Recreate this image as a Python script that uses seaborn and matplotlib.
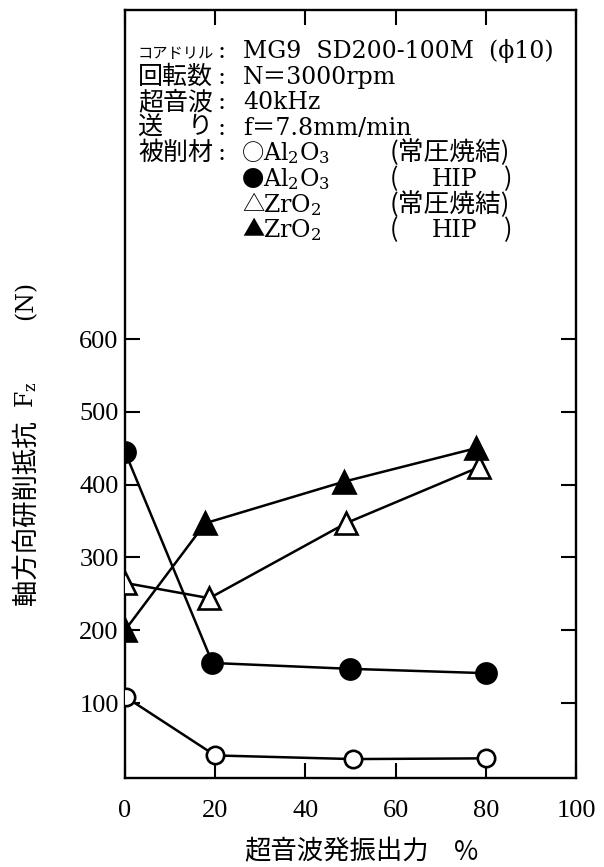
import matplotlib
matplotlib.use("Agg")
import matplotlib.pyplot as plt
import seaborn as sns
import pandas as pd

# ---------------- data ----------------
power_al_normal = [0.2, 20.0, 50.5, 80.0]
fz_al_normal = [108, 28, 23, 24]
power_al_hip = [0.0, 19.4, 49.8, 80.0]
fz_al_hip = [445, 155, 147, 141]
power_zr_normal = [0.0, 18.7, 49.0, 78.5]
fz_zr_normal = [265, 244, 347, 424]
power_zr_hip = [0.0, 17.8, 48.5, 77.8]
fz_zr_hip = [200, 347, 404, 450]

x_ticks = [0, 20, 40, 60, 80, 100]
y_ticks = [100, 200, 300, 400, 500, 600]

cond_labels = ["コアドリル", "回転数", "超音波", "送　り", "被削材"]
cond_values = ["MG9  SD200-100M  (ϕ10)", "N＝3000rpm", "40kHz", "f＝7.8mm/min"]
mat_symbols = ["○", "●", "△", "▲"]
mat_formulas = [r"$\mathrm{Al_2O_3}$", r"$\mathrm{Al_2O_3}$", r"$\mathrm{ZrO_2}$", r"$\mathrm{ZrO_2}$"]
mat_process = ["常圧焼結", "HIP", "常圧焼結", "HIP"]

xlabel_text = "超音波発振出力"
ylabel_text = "軸方向研削抵抗"

# ---------------- style ----------------
sns.set_theme(style="ticks")
plt.rcParams["font.family"] = ["DejaVu Serif", "Noto Sans CJK JP"]
plt.rcParams["mathtext.fontset"] = "dejavuserif"
plt.rcParams["text.color"] = "black"
plt.rcParams["axes.labelcolor"] = "black"

W, H = 604, 867
fig = plt.figure(figsize=(W / 100, H / 100), dpi=100)
fig.patch.set_facecolor("white")
ax = fig.add_axes([125 / W, (H - 778) / H, (576 - 125) / W, (778 - 10) / H])
ax.set_facecolor("white")


def P(x, y):
    return x / W, 1 - y / H


lw = 1.8
series = [
    (power_al_normal, fz_al_normal, "o", "white", 12.5),
    (power_al_hip, fz_al_hip, "o", "black", 14.5),
    (power_zr_normal, fz_zr_normal, "^", "white", 16),
    (power_zr_hip, fz_zr_hip, "^", "black", 16),
]
for xs, ys, mk, fc, ms in series:
    df = pd.DataFrame({"x": xs, "y": ys})
    sns.lineplot(data=df, x="x", y="y", ax=ax, sort=False, color="black",
                 linewidth=lw, marker=mk, markersize=ms, markerfacecolor=fc,
                 markeredgecolor="black", markeredgewidth=1.9, zorder=3)

ax.set_xlim(0, 100)
ax.set_ylim(-3, 1052)
ax.set_xticks(x_ticks)
ax.set_xticklabels([str(v) for v in x_ticks])
ax.set_yticks(y_ticks)
ax.set_yticklabels([str(v) for v in y_ticks])
ax.set_xlabel("")
ax.set_ylabel("")
for s in ax.spines.values():
    s.set_visible(True)
    s.set_linewidth(1.7)
    s.set_color("black")
ax.tick_params(axis="both", direction="in", length=11, width=1.5,
               top=True, right=True, colors="black")
ax.tick_params(axis="x", pad=16)
ax.tick_params(axis="y", pad=4.5)
for lab in ax.get_xticklabels() + ax.get_yticklabels():
    lab.set_fontfamily("Liberation Serif")
    lab.set_fontsize(19)

# ---------------- axis titles ----------------
cjk = ["Noto Sans CJK JP", "DejaVu Sans"]
fig.text(*P(337, 852), xlabel_text, family=cjk, fontsize=19,
         ha="center", va="center")
fig.text(*P(466, 852), "%", family=cjk, fontsize=19, ha="center", va="center")
fig.text(*P(26, 513), ylabel_text, family=cjk, fontsize=19,
         ha="center", va="center", rotation=90)
fig.text(*P(26, 395), r"F$_\mathrm{z}$", fontsize=17,
         ha="center", va="center", rotation=90)
fig.text(*P(26, 300), "(N)", fontsize=17, ha="center", va="center", rotation=90)

# ---------------- condition block ----------------
base0, step = 58, 25.6
for i, lab in enumerate(cond_labels):
    yb = base0 + step * i
    fs = 11 if i == 0 else 18
    fig.text(*P(138, yb), lab, family=cjk, fontsize=fs, ha="left", va="baseline")
    fig.text(*P(221, yb), ":", fontsize=17, ha="center", va="baseline")
for i, val in enumerate(cond_values):
    yb = base0 + step * i
    fig.text(*P(243, yb), val, fontsize=17, ha="left", va="baseline")

for j in range(4):
    yb = base0 + step * (4 + j)
    fig.text(*P(253, yb - 7), mat_symbols[j], family=cjk, fontsize=16,
             ha="center", va="center")
    fig.text(*P(263, yb), mat_formulas[j], fontsize=17, ha="left", va="baseline")
    if mat_process[j] == "HIP":
        fig.text(*P(390, yb), "(", family=cjk, fontsize=18, ha="left", va="baseline")
        fig.text(*P(455, yb), "HIP", fontsize=17, ha="center", va="baseline")
        fig.text(*P(512, yb), ")", family=cjk, fontsize=18, ha="right", va="baseline")
    else:
        fig.text(*P(390, yb), "(" + mat_process[j] + ")", family=cjk,
                 fontsize=18.5, ha="left", va="baseline")

fig.savefig("out.png", dpi=100, facecolor="white")
